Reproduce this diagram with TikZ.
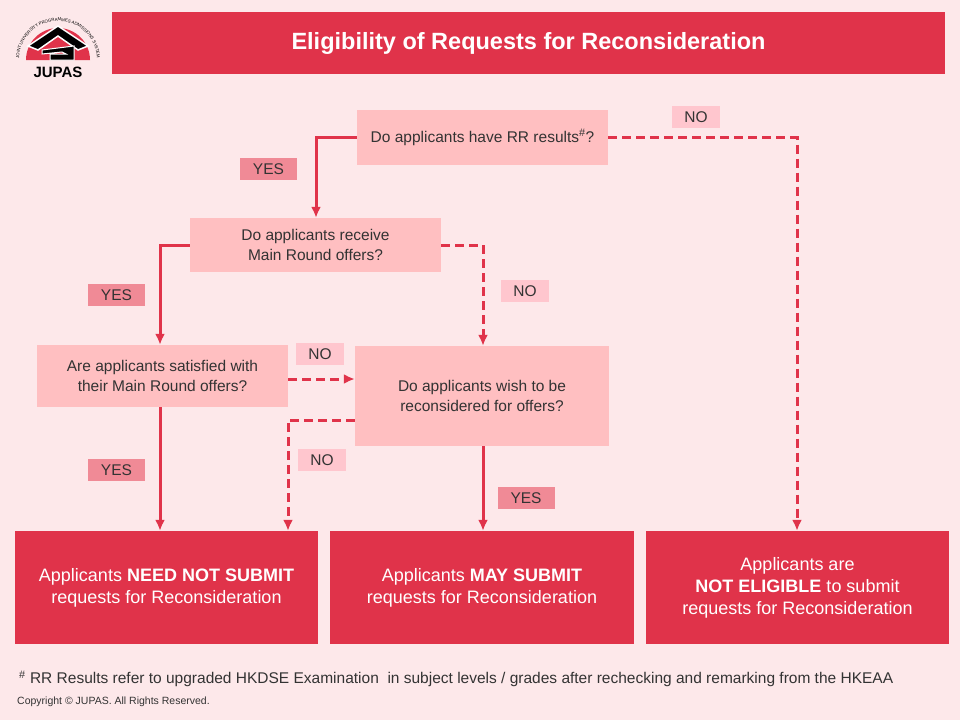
\documentclass[tikz,border=0pt]{standalone}
\usepackage{fontspec}
\setmainfont{Liberation Sans}
\usetikzlibrary{positioning, arrows.meta, decorations.text}
\definecolor{jred}{HTML}{E0334A}
\definecolor{jbg}{HTML}{FDE8EA}
\definecolor{jq}{HTML}{FFBFC1}
\definecolor{jyes}{HTML}{F08A96}
\definecolor{jno}{HTML}{FFC6CE}
\definecolor{jtxt}{HTML}{333333}
\tikzstyle{Question} = [fill=jq, text=jtxt, align=center, font=\fontsize{15.5}{20}\selectfont, inner sep=0pt]
\tikzstyle{Result} = [fill=jred, text=white, align=center, font=\fontsize{18}{22}\selectfont, inner sep=0pt]
\tikzstyle{Yes} = [fill=jyes, text=jtxt, font=\fontsize{15.5}{18}\selectfont, minimum width=57pt, minimum height=22pt, inner sep=0pt]
\tikzstyle{No} = [fill=jno, text=jtxt, font=\fontsize{15.5}{18}\selectfont, minimum width=48pt, minimum height=22pt, inner sep=0pt]
\tikzstyle{Arrow} = [jred, line width=3pt, -{Latex[length=11pt,width=10pt]}]
\tikzstyle{DArrow} = [Arrow, dash pattern=on 9pt off 5pt]
\begin{document}
\begin{tikzpicture}[x=1pt, y=-1pt]
    \fill[jbg] (0,0) rectangle (960,720);
    \useasboundingbox (0,0) rectangle (960,720);
    % logo
    \fill[jred] (26,60) arc[start angle=180, end angle=360, radius=32] -- cycle;
    \fill[black, draw=white, line width=1.5pt] (28,46) -- (58,26) -- (88,46) -- (78,50) -- (58,36) -- (38,50) -- cycle;
    \fill[black, draw=white, line width=1pt] (42,50) -- (74,46) -- (74,60) -- (50,60) -- (50,54) -- (66,54) -- (62,52) -- (42,54) -- cycle;
    \node[font=\bfseries\fontsize{15}{15}\selectfont] (logo) at (58,72) {JUPAS};
    \path[decorate, decoration={text along path, text format delimiters={|}{|},
        text={|\fontsize{4.3}{5}\selectfont|JOINT UNIVERSITY PROGRAMMES ADMISSIONS SYSTEM}, text align=center}]
        (58,60) ++(160:39) arc[start angle=160, end angle=380, radius=39];
    % title
    \node[fill=jred, text=white, minimum width=833pt, minimum height=62pt, font=\bfseries\fontsize{23.5}{28}\selectfont] (title) at (528.5,43) {Eligibility of Requests for Reconsideration};
    % questions
    \node[Question, minimum width=251pt, minimum height=55pt] (q1) at (482.5,137.5) {Do applicants have RR results\textsuperscript{\#}?};
    \node[Question, minimum width=251pt, minimum height=54pt] (q2) at (315.5,245) {Do applicants receive\\Main Round offers?};
    \node[Question, minimum width=251pt, minimum height=62pt] (q3) at (162.5,376) {Are applicants satisfied with\\their Main Round offers?};
    \node[Question, minimum width=254pt, minimum height=100pt] (q4) at (482,396) {Do applicants wish to be\\reconsidered for offers?};
    % results
    \node[Result, minimum width=303pt, minimum height=113pt] (r1) at (166.5,587.5) {Applicants \textbf{NEED NOT SUBMIT}\\requests for Reconsideration};
    \node[Result, minimum width=304pt, minimum height=113pt] (r2) at (482,587.5) {Applicants \textbf{MAY SUBMIT}\\requests for Reconsideration};
    \node[Result, minimum width=303pt, minimum height=113pt] (r3) at (797.5,587.5) {Applicants are\\\textbf{NOT ELIGIBLE} to submit\\requests for Reconsideration};
    % connectors
    \coordinate (c1) at (316,137.5);
    \coordinate (c2) at (797,137.5);
    \coordinate (c3) at (160,245);
    \coordinate (c4) at (483,245);
    \coordinate (c5) at (288,420);
    \draw[Arrow] (q1.west) -- (c1) -- (c1 |- q2.north);
    \draw[DArrow] (q1.east) -- (c2) -- (c2 |- r3.north);
    \draw[Arrow] (q2.west) -- (c3) -- (c3 |- q3.north);
    \draw[DArrow] (q2.east) -- (c4) -- (c4 |- q4.north);
    \draw[DArrow] (q3.east |- 0,379) -- (q4.west |- 0,379);
    \draw[Arrow] (c3 |- q3.south) -- (c3 |- r1.north);
    \draw[DArrow] (q4.west |- c5) -- (c5) -- (c5 |- r1.north);
    \draw[Arrow] (c4 |- q4.south) -- (c4 |- r2.north);
    % labels
    \node[Yes] (y1) at (268.5,169) {YES};
    \node[No] (n1) at (696,117) {NO};
    \node[Yes] (y2) at (116.5,295) {YES};
    \node[No] (n2) at (525,291) {NO};
    \node[No] (n3) at (320,354) {NO};
    \node[Yes] (y3) at (116.5,470) {YES};
    \node[No] (n4) at (322,460) {NO};
    \node[Yes] (y4) at (526,498) {YES};
    % footnote
    \node[anchor=west, text=jtxt, font=\fontsize{15.5}{18}\selectfont, inner sep=0pt] (foot) at (19,679) {\textsuperscript{\#} RR Results refer to upgraded HKDSE Examination\ \ in subject levels / grades after rechecking and remarking from the HKEAA};
    \node[anchor=west, text=jtxt, font=\fontsize{10.5}{12}\selectfont, inner sep=0pt] (copy) at (17,702) {Copyright © JUPAS. All Rights Reserved.};
\end{tikzpicture}
\end{document}
